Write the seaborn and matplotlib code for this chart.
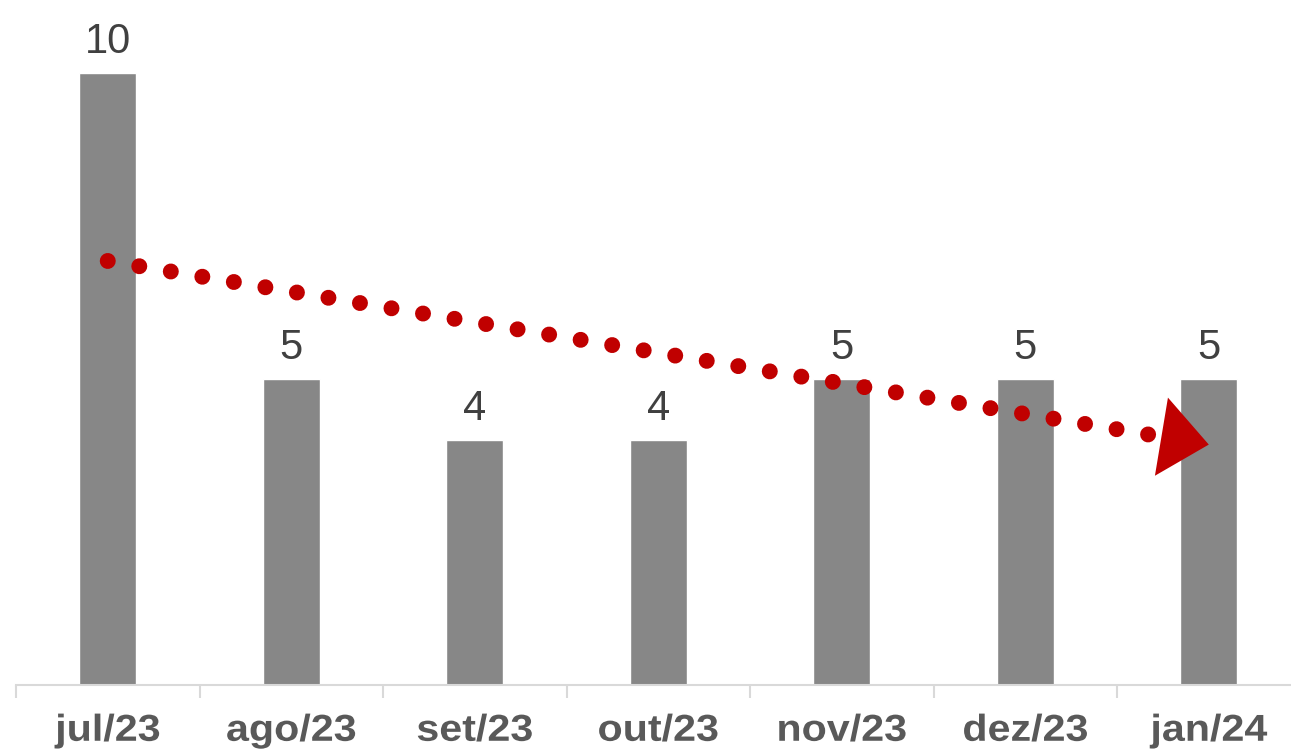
import numpy as np
import pandas as pd
import seaborn as sns
import matplotlib.pyplot as plt
from matplotlib.patheffects import AbstractPathEffect
from matplotlib.transforms import Affine2D

# ---- data ----
months = ["jul/23", "ago/23", "set/23", "out/23", "nov/23", "dez/23", "jan/24"]
values = [10, 5, 4, 4, 5, 5, 5]

BAR_COLOR = "#878787"
RED = "#C00000"


class HStretch(AbstractPathEffect):
    """Stretch text horizontally around its own centre."""

    def __init__(self, sx=1.1):
        super().__init__()
        self.sx = sx

    def draw_path(self, renderer, gc, tpath, affine, rgbFace=None):
        ext = tpath.get_extents(affine)
        cx = (ext.x0 + ext.x1) / 2
        aff = affine + Affine2D().translate(-cx, 0).scale(self.sx, 1).translate(cx, 0)
        renderer.draw_path(gc, tpath, aff, rgbFace)


sns.set_theme(style="white")
plt.rcParams["font.family"] = ["Liberation Sans", "DejaVu Sans"]

W, H = 1291, 756
fig = plt.figure(figsize=(W / 100, H / 100), dpi=100)
ax = fig.add_axes([16 / W, 71 / H, 1 - 16 / W, 685 / H])

df = pd.DataFrame({"mes": months, "valor": values})
sns.barplot(data=df, x="mes", y="valor", color=BAR_COLOR, width=0.31,
            saturation=1, ax=ax)

# axes styling
for s in ["left", "top", "right"]:
    ax.spines[s].set_visible(False)
ax.spines["bottom"].set_color("#d9d9d9")
ax.spines["bottom"].set_linewidth(1.5)
ax.set_yticks([])
ax.set_xlabel("")
ax.set_ylabel("")
ax.set_xticks(np.arange(-0.5, 7, 1), minor=True)
ax.tick_params(axis="x", which="minor", bottom=True, length=9.4, width=1.5,
               color="#d9d9d9", direction="out")
ax.tick_params(axis="x", which="major", bottom=True, length=0, pad=20,
               labelsize=27, labelcolor="#595959")

ax.set_xlim(-0.5, 6.448)
ax.set_ylim(0, 685 / 61.2)

# linear trend line (dotted) with arrow head
x = np.arange(len(values))
coef = np.polyfit(x, values, 1)
xs = np.array([0, 5.69])
ax.plot(xs, np.polyval(coef, xs), color=RED, lw=11.5,
        linestyle=(0, (0.001, 2.0)), dash_capstyle="round", zorder=3)
x_tip, x_tail = 6.0, 5.55
ax.annotate("", xy=(x_tip, np.polyval(coef, x_tip)),
            xytext=(x_tail, np.polyval(coef, x_tail)),
            arrowprops=dict(arrowstyle="-|>,head_length=2.4,head_width=1.98",
                            mutation_scale=14.4, color=RED, lw=0,
                            shrinkA=0, shrinkB=0),
            zorder=3)

# value labels
labels = ax.bar_label(ax.containers[0], labels=[str(v) for v in values],
                      padding=8, fontsize=30, color="#404040")

for tick in ax.xaxis.get_major_ticks():
    tick.label1.set_fontweight("bold")
    tick.label1.set_path_effects([HStretch(1.1)])

fig.savefig("out.png", dpi=100)
